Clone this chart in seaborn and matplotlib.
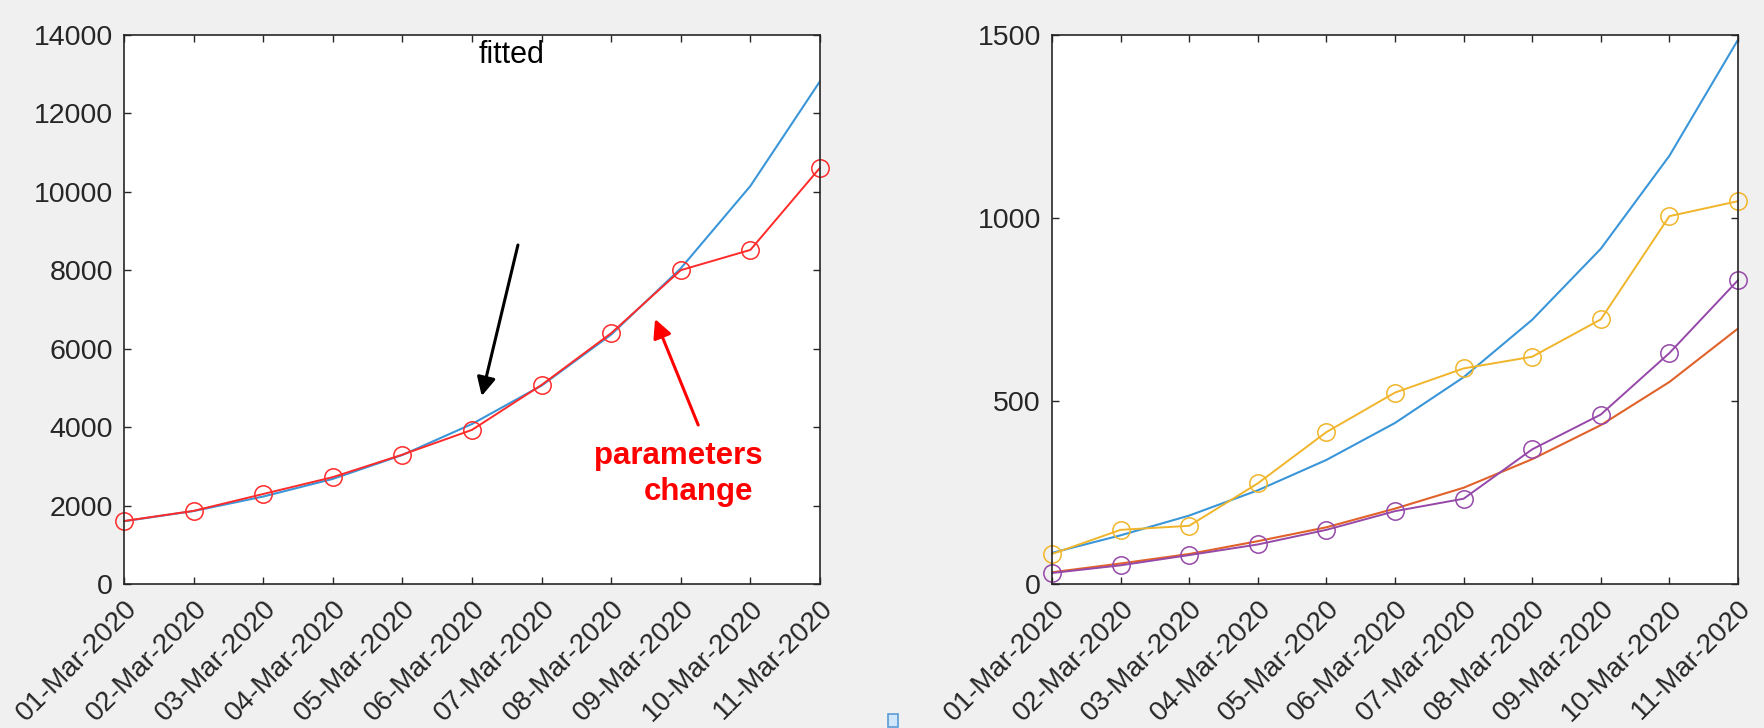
import matplotlib
matplotlib.use("Agg")
import matplotlib.pyplot as plt
from matplotlib import font_manager as fm
import matplotlib.patches as mpatches
import seaborn as sns
import pandas as pd

# ---------------- data ----------------
dates = ["01-Mar-2020", "02-Mar-2020", "03-Mar-2020", "04-Mar-2020", "05-Mar-2020",
         "06-Mar-2020", "07-Mar-2020", "08-Mar-2020", "09-Mar-2020", "10-Mar-2020",
         "11-Mar-2020"]

left_fitted = [1600, 1860, 2230, 2680, 3290, 4080, 5060, 6360, 8050, 10150, 12820]
left_observed = [1606, 1865, 2295, 2725, 3299, 3930, 5077, 6397, 8003, 8520, 10614]

right_blue = [85, 133, 187, 256, 339, 440, 565, 722, 916, 1170, 1487]
right_orange = [32, 56, 82, 117, 155, 206, 263, 341, 434, 552, 698]
right_yellow = [82, 148, 159, 275, 415, 523, 589, 621, 723, 1005, 1046]
right_purple = [30, 51, 79, 108, 148, 199, 233, 368, 463, 631, 830]

left_yticks = [0, 2000, 4000, 6000, 8000, 10000, 12000, 14000]
right_yticks = [0, 500, 1000, 1500]

# ---------------- style ----------------
sns.set_style("white")
names = {f.name for f in fm.fontManager.ttflist}
tickfont = "Liberation Sans Narrow" if "Liberation Sans Narrow" in names else "Liberation Sans"
plt.rcParams["font.family"] = ["Liberation Sans", "DejaVu Sans"]

BG = "#f0f0f0"
AXC = "#262626"
C_BLUE = "#3a96d8"
C_RED = "#ff2a2a"
C_ORANGE = "#e0622a"
C_YELLOW = "#f0b52a"
C_PURPLE = "#9548a8"

fig = plt.figure(figsize=(17.65, 7.28), dpi=100, facecolor=BG)

ax1 = fig.add_axes([124 / 1765, 1 - 584 / 728, 696 / 1765, 549 / 728])
ax2 = fig.add_axes([1052 / 1765, 1 - 584 / 728, 686 / 1765, 549 / 728])

x = list(range(len(dates)))
df_left = pd.DataFrame({"x": x, "fitted": left_fitted, "observed": left_observed})
df_right = pd.DataFrame({"x": x, "blue": right_blue, "orange": right_orange,
                         "yellow": right_yellow, "purple": right_purple})

MS = 12.5
# left panel
sns.lineplot(data=df_left, x="x", y="fitted", ax=ax1, color=C_BLUE, lw=1.5)
sns.lineplot(data=df_left, x="x", y="observed", ax=ax1, color=C_RED, lw=1.4,
             marker="o", markersize=MS, markerfacecolor="none",
             markeredgecolor=C_RED, markeredgewidth=1.1, clip_on=False)

# right panel
sns.lineplot(data=df_right, x="x", y="blue", ax=ax2, color=C_BLUE, lw=1.5)
sns.lineplot(data=df_right, x="x", y="orange", ax=ax2, color=C_ORANGE, lw=1.5)
sns.lineplot(data=df_right, x="x", y="yellow", ax=ax2, color=C_YELLOW, lw=1.4,
             marker="o", markersize=MS, markerfacecolor="none",
             markeredgecolor=C_YELLOW, markeredgewidth=1.1, clip_on=False)
sns.lineplot(data=df_right, x="x", y="purple", ax=ax2, color=C_PURPLE, lw=1.4,
             marker="o", markersize=MS, markerfacecolor="none",
             markeredgecolor=C_PURPLE, markeredgewidth=1.1, clip_on=False)

for ax, yt in ((ax1, left_yticks), (ax2, right_yticks)):
    ax.set_facecolor("white")
    ax.set_xlim(0, len(dates) - 1)
    ax.set_ylim(yt[0], yt[-1])
    ax.set_xticks(x)
    ax.set_yticks(yt)
    ax.set_yticklabels([str(v) for v in yt], fontsize=20.5, color=AXC, family=tickfont)
    ax.set_xticklabels(dates, fontsize=20, color=AXC, family=tickfont,
                       rotation=45, ha="right", va="top", rotation_mode="anchor")
    ax.set_xlabel("")
    ax.set_ylabel("")
    ax.tick_params(axis="both", direction="in", length=5, width=1, color=AXC,
                   top=True, right=True, bottom=True, left=True)
    ax.tick_params(axis="x", pad=8)
    ax.tick_params(axis="y", pad=8)
    for s in ax.spines.values():
        s.set_color(AXC)
        s.set_linewidth(1.2)
        s.set_visible(True)

# annotations on left panel
ax1.text(5.57, 13490, "fitted", fontsize=22, color="black", ha="center", va="center")
ax1.annotate("", xy=(5.14, 4794), xytext=(5.66, 8645),
             arrowprops=dict(arrowstyle="-|>", color="black", lw=2.2,
                             mutation_scale=28, shrinkA=0, shrinkB=0))
ax1.annotate("", xy=(7.63, 6758), xytext=(8.25, 4055),
             arrowprops=dict(arrowstyle="-|>", color="#ff0000", lw=2.2,
                             mutation_scale=28, shrinkA=0, shrinkB=0))
ax1.text(7.96, 3264, "parameters", fontsize=22.5, color="#ff0000",
         fontweight="bold", ha="center", va="center")
ax1.text(8.25, 2346, "change", fontsize=22.5, color="#ff0000",
         fontweight="bold", ha="center", va="center")

# small icon artifact at the bottom
fig.patches.append(mpatches.Rectangle((888 / 1765, 1 - 727 / 728), 10 / 1765, 13 / 728,
                                      transform=fig.transFigure, facecolor="#cfe6fb",
                                      edgecolor="#5b9bd5", lw=1.2))

fig.savefig("out.png", dpi=100, facecolor=BG)
